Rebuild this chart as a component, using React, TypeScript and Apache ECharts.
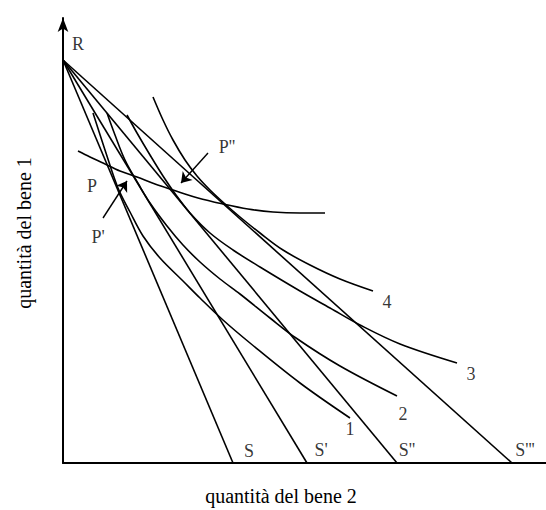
import { useEffect, useRef } from "react";
import * as echarts from "echarts";

// Data coordinates: x = quantità del bene 2, y = quantità del bene 1 (arbitrary units)
const X_MAX = 48.3;
const Y_MAX = 44.5;

// Budget lines: all start at R on the y-axis and end at S, S', S'', S''' on the x-axis
const rY = 40.3;
const budgetEnds = [17.0, 24.4, 33.4, 44.9];

// Indifference curves 1..4
const curve1 = [
  [3.0, 35.0], [4.2, 31.3], [5.5, 27.5], [6.7, 25.1], [8.0, 22.7], [9.7, 20.5],
  [12.0, 18.2], [13.7, 16.5], [16.0, 14.3], [18.7, 12.0], [23.7, 8.0], [28.7, 4.5],
];
const curve2 = [
  [4.4, 35.0], [5.2, 32.8], [6.2, 30.3], [7.6, 27.8], [8.7, 26.0], [10.4, 23.7],
  [12.0, 21.8], [13.7, 20.1], [15.7, 18.4], [17.7, 16.9], [20.7, 14.5], [23.3, 12.5],
  [27.7, 9.7], [33.4, 6.7],
];
const curve3 = [
  [6.4, 34.8], [7.4, 33.0], [8.7, 30.8], [10.0, 28.7], [11.3, 26.8], [12.7, 25.0],
  [14.7, 23.0], [17.0, 21.3], [19.7, 19.6], [23.7, 17.2], [26.7, 15.5], [29.7, 13.8],
  [33.7, 11.9], [39.4, 10.0],
];
const curve4 = [
  [9.0, 36.6], [10.0, 34.3], [11.0, 32.3], [12.2, 30.3], [13.4, 28.7], [14.7, 27.3],
  [16.2, 25.9], [17.7, 24.6], [19.7, 23.0], [22.0, 21.3], [24.7, 19.8], [27.7, 18.4],
  [31.0, 17.2],
];

// Price-consumption curve through P, P', P''
const pcc = [
  [1.5, 31.2], [2.7, 30.6], [4.0, 30.0], [5.7, 29.2], [7.4, 28.6], [9.2, 27.9],
  [11.0, 27.3], [13.5, 26.5], [16.0, 25.9], [18.5, 25.4], [21.0, 25.1], [23.7, 25.0],
  [26.2, 25.0],
];

// Arrows (tail -> tip)
const arrowTails = [[4.0, 24.5], [14.5, 31.0]];
const arrowTips = [[6.4, 28.2], [11.8, 28.0]];

// Text labels
const labelTexts = ["R", "S", "S'", "S''", "S'''", "P", "P'", "P''", "1", "2", "3", "4"];
const labelX = [1.5, 18.6, 25.8, 34.4, 46.2, 2.9, 3.5, 16.4, 28.7, 34.0, 40.8, 32.4];
const labelY = [41.9, 1.2, 1.3, 1.3, 1.3, 27.7, 22.6, 31.6, 3.4, 4.9, 8.9, 16.1];

const xTitle = "quantità del bene 2";
const yTitle = "quantità del bene 1";

const FONT = '"Liberation Serif", "DejaVu Serif", serif';

export default function App() {
  const ref = useRef<HTMLDivElement>(null);

  useEffect(() => {
    if (!ref.current) return;
    const chart = echarts.init(ref.current, undefined, { renderer: "svg" });

    const lineStyle = { color: "#000", width: 1.6 };

    const budgetSeries = budgetEnds.map((end) => ({
      type: "line",
      data: [[0, rY], [end, 0]],
      showSymbol: false,
      symbol: "none",
      lineStyle,
      silent: true,
    }));

    const curveSeries = [curve1, curve2, curve3, curve4, pcc].map((c) => ({
      type: "line",
      data: c,
      smooth: 0.35,
      showSymbol: false,
      symbol: "none",
      lineStyle,
      silent: true,
    }));

    const arrowSeries = {
      type: "lines",
      coordinateSystem: "cartesian2d",
      data: arrowTails.map((t, i) => ({ coords: [t, arrowTips[i]] })),
      symbol: ["none", "arrow"],
      symbolSize: 10,
      lineStyle: { color: "#000", width: 1.4, opacity: 1, curveness: 0 },
      silent: true,
    };

    const labelSeries = {
      type: "scatter",
      symbolSize: 0,
      silent: true,
      data: labelTexts.map((t, i) => ({
        value: [labelX[i], labelY[i]],
        label: { formatter: t },
      })),
      label: {
        show: true,
        position: "inside",
        color: "#000",
        fontFamily: FONT,
        fontSize: 18,
        align: "center",
        verticalAlign: "middle",
      },
    };

    chart.setOption({
      animation: false,
      backgroundColor: "#fff",
      grid: { left: 63, right: 0, top: 18, bottom: 47 },
      xAxis: {
        type: "value",
        min: 0,
        max: X_MAX,
        axisLine: { show: true, onZero: false, lineStyle: { color: "#000", width: 2 } },
        axisTick: { show: false },
        axisLabel: { show: false },
        splitLine: { show: false },
      },
      yAxis: {
        type: "value",
        min: 0,
        max: Y_MAX,
        axisLine: {
          show: true,
          onZero: false,
          symbol: ["none", "arrow"],
          symbolSize: [8, 14],
          lineStyle: { color: "#000", width: 2 },
        },
        axisTick: { show: false },
        axisLabel: { show: false },
        splitLine: { show: false },
      },
      graphic: [
        {
          type: "text",
          x: 281,
          y: 496,
          style: {
            text: xTitle,
            fill: "#000",
            font: `20px ${FONT}`,
            align: "center",
            verticalAlign: "middle",
          },
        },
        {
          type: "text",
          x: 24,
          y: 233,
          rotation: Math.PI / 2,
          style: {
            text: yTitle,
            fill: "#000",
            font: `20px ${FONT}`,
            align: "center",
            verticalAlign: "middle",
          },
        },
      ],
      series: [...budgetSeries, ...curveSeries, arrowSeries, labelSeries],
    });

    return () => chart.dispose();
  }, []);

  return (
    <div
      ref={ref}
      style={{ position: "absolute", left: 0, top: 0, width: 546, height: 510 }}
    />
  );
}
